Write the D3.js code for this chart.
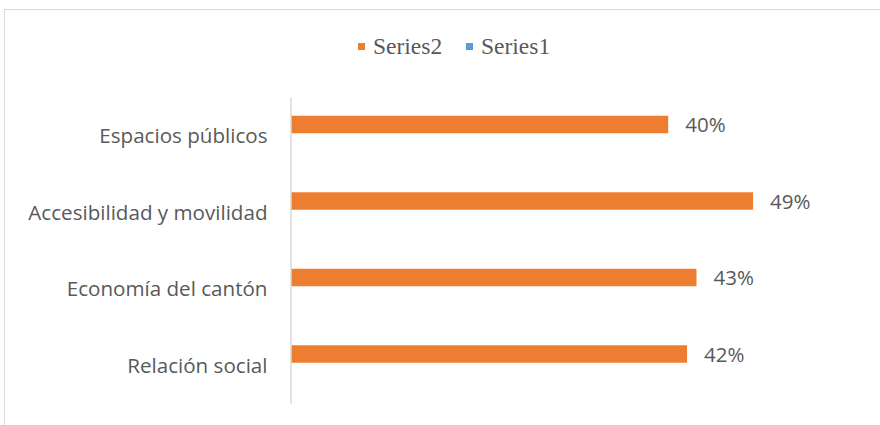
<!DOCTYPE html>
<html>
<head>
<meta charset="utf-8">
<script src="https://cdn.jsdelivr.net/npm/d3@7"></script>
<style>
  html, body { margin: 0; padding: 0; background: #fff; }
  svg { display: block; }
</style>
</head>
<body>
<div id="chart"></div>
<script>
const categories = ["Espacios públicos", "Accesibilidad y movilidad", "Economía del cantón", "Relación social"];
const seriesNames = ["Series2", "Series1"];
const series2 = [0.40, 0.49, 0.43, 0.42];
const series1 = [0, 0, 0, 0];
const seriesColors = ["#ED7D31", "#5B9BD5"];

const width = 880, height = 425;
const textColor = "#595959";

const svg = d3.select("#chart").append("svg")
  .attr("width", width)
  .attr("height", height);

// chart frame (runs off the right and bottom edges)
svg.append("rect")
  .attr("x", 4.5).attr("y", 9.5)
  .attr("width", width).attr("height", height)
  .attr("fill", "none")
  .attr("stroke", "#D9D9D9")
  .attr("stroke-width", 1);

const x = d3.scaleLinear().domain([0, 0.5]).range([291, 291 + 471.5]);
const y0 = d3.scaleBand().domain(categories).range([95, 401]).padding(0);
const y1 = d3.scaleBand().domain(seriesNames).range([0, y0.bandwidth()])
  .paddingInner(0).paddingOuter(1.186);

const rows = categories.map((c, i) => ({
  cat: c,
  values: [
    { name: "Series2", value: series2[i] },
    { name: "Series1", value: series1[i] }
  ]
}));

const color = d3.scaleOrdinal().domain(seriesNames).range(seriesColors);

const groups = svg.append("g").selectAll("g")
  .data(rows)
  .join("g")
  .attr("transform", d => `translate(0,${y0(d.cat)})`);

groups.selectAll("rect")
  .data(d => d.values)
  .join("rect")
  .attr("x", x(0))
  .attr("y", d => y1(d.name))
  .attr("width", d => x(d.value) - x(0))
  .attr("height", y1.bandwidth())
  .attr("fill", d => color(d.name));

// data labels (Series2 only)
groups.append("text")
  .attr("x", d => x(d.values[0].value) + 17)
  .attr("y", d => y1("Series2") + y1.bandwidth() / 2)
  .attr("dy", "0.38em")
  .attr("font-family", "'Open Sans', sans-serif")
  .attr("font-size", 20.5)
  .attr("fill", textColor)
  .text(d => d3.format(".0%")(d.values[0].value));

// category axis
const yAxis = svg.append("g")
  .attr("transform", `translate(${x(0) - 0.5},0)`)
  .call(d3.axisLeft(y0).tickSize(0).tickPadding(23));
yAxis.select(".domain").attr("stroke", "#D9D9D9").attr("stroke-width", 1.5)
  .attr("transform", "translate(0,2)");
yAxis.selectAll("text")
  .attr("font-family", "'Open Sans', sans-serif")
  .attr("font-size", 20.6)
  .attr("fill", textColor)
  .attr("dy", "0.48em");

// legend
const legendItems = [
  { name: "Series2", x: 358 },
  { name: "Series1", x: 466 }
];
const legend = svg.append("g").selectAll("g")
  .data(legendItems)
  .join("g")
  .attr("transform", d => `translate(${d.x},43)`);
legend.append("rect")
  .attr("width", 7).attr("height", 7)
  .attr("fill", d => color(d.name));
legend.append("text")
  .attr("x", 15).attr("y", 11)
  .attr("font-family", "'Liberation Serif', 'Times New Roman', serif")
  .attr("font-size", 23.5)
  .attr("fill", textColor)
  .text(d => d.name);
</script>
</body>
</html>
